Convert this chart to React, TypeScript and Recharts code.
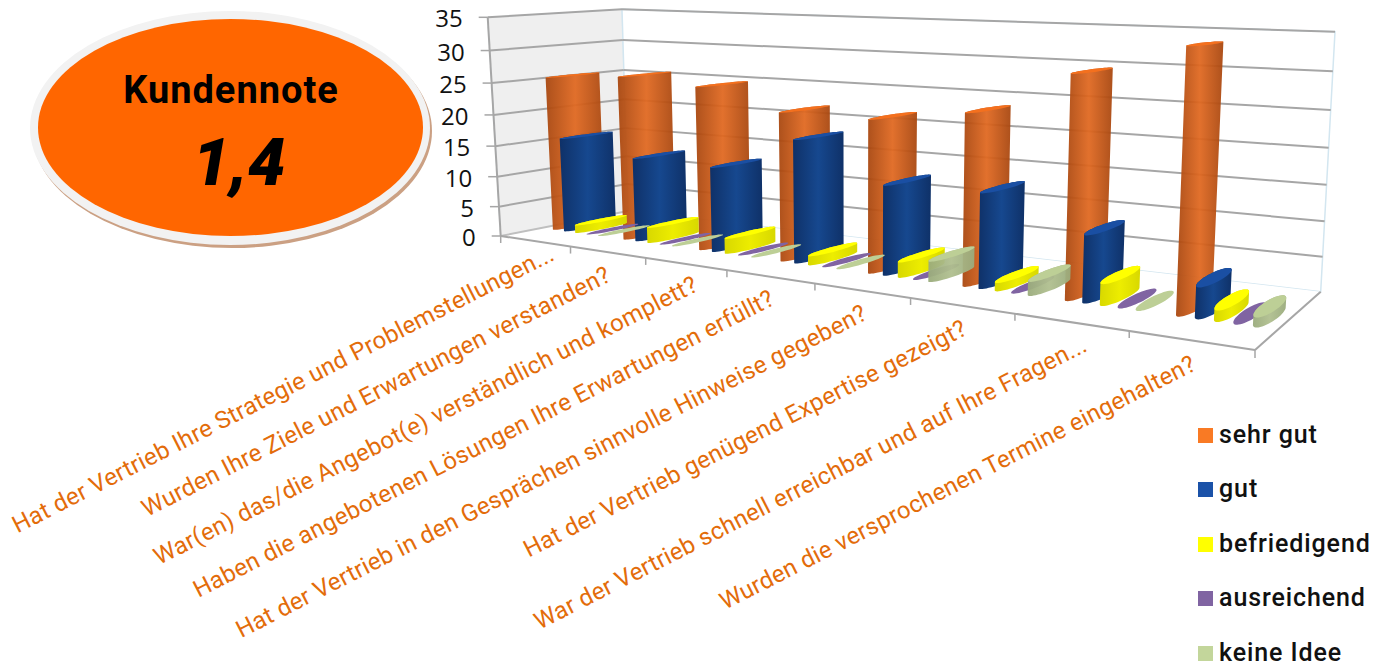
import React from 'react';
import { BarChart, Bar, XAxis, YAxis, Legend, Customized } from 'recharts';

const categories = [
  'Hat der Vertrieb Ihre Strategie und Problemstellungen...',
  'Wurden Ihre Ziele und Erwartungen verstanden?',
  'War(en) das/die Angebot(e) verständlich und komplett?',
  'Haben die angebotenen Lösungen Ihre Erwartungen erfüllt?',
  'Hat der Vertrieb in den Gesprächen sinnvolle Hinweise gegeben?',
  'Hat der Vertrieb genügend Expertise gezeigt?',
  'War der Vertrieb schnell erreichbar und auf Ihre Fragen...',
  'Wurden die versprochenen Termine eingehalten?',
];
const sehrGut = [25.3, 26.1, 25.3, 22.4, 22.3, 24.1, 29.9, 33.8];
const gut = [15.6, 13.5, 13.3, 18.6, 13.2, 13.5, 9.3, 4.2];
const befriedigend = [1.3, 2.5, 2.4, 1.4, 2.3, 1.2, 3, 1.5];
const ausreichend = [0, 0, 0, 0, 0, 0, 0, 0];
const keineIdee = [0, 0, 0, 0, 3, 2, 0, 1.3];
const yTicks = [0, 5, 10, 15, 20, 25, 30, 35];
const labelShiftX = [21, 5, 14, 6, 7, 7, 18, 7];
const labelShiftY = [18, 28, 26, 27, 28, 28, 28, 29];

const seriesMeta = [
  { key: 'sehrGut', name: 'sehr gut', legend: '#F97A24', side: 'gOrange', top: '#F4701E', opacity: 0.94, values: sehrGut },
  { key: 'gut', name: 'gut', legend: '#1B52A8', side: 'gBlue', top: '#1A4FA3', opacity: 1, values: gut },
  { key: 'befriedigend', name: 'befriedigend', legend: '#FFFF00', side: 'gYellow', top: '#FFFF00', opacity: 1, values: befriedigend },
  { key: 'ausreichend', name: 'ausreichend', legend: '#8064A2', side: 'gPurple', top: '#8064A2', opacity: 1, values: ausreichend },
  { key: 'keineIdee', name: 'keine Idee', legend: '#C3D69B', side: 'gGreen', top: '#BDCF96', opacity: 0.95, values: keineIdee },
];
const rows = categories.map((name, i) => {
  const row: Record<string, any> = { name };
  seriesMeta.forEach((s) => { row[s.key] = s.values[i]; });
  return row;
});

const W = 1388, H = 666;
const PL = 100, PT = 100, PW = 1188, PH = 466;

// perspective box: corners as [x, y, w]
const C = {
  b00: [500.7, 236, 1], b10: [1255, 350, 0.714], b01: [628, 211, 1.084], b11: [1320.7, 291.7, 0.842],
  t00: [487.7, 17.3, 0.93], t10: [1269, 43, 0.664], t01: [622, 9.3, 1.008], t11: [1335, 31.7, 0.783],
};
function project(t: number, d: number, h: number): [number, number] {
  const acc = [0, 0, 0];
  const add = (c: number[], k: number) => { acc[0] += c[0] * c[2] * k; acc[1] += c[1] * c[2] * k; acc[2] += c[2] * k; };
  add(C.b00, (1 - t) * (1 - d) * (1 - h)); add(C.b10, t * (1 - d) * (1 - h));
  add(C.b01, (1 - t) * d * (1 - h)); add(C.b11, t * d * (1 - h));
  add(C.t00, (1 - t) * (1 - d) * h); add(C.t10, t * (1 - d) * h);
  add(C.t01, (1 - t) * d * h); add(C.t11, t * d * h);
  return [acc[0] / acc[2], acc[1] / acc[2]];
}
const pathOf = (pts: [number, number][]) => 'M' + pts.map((p) => p[0].toFixed(1) + ' ' + p[1].toFixed(1)).join('L') + 'Z';
function hull(points: [number, number][]) {
  const p = [...points].sort((a, b) => a[0] - b[0] || a[1] - b[1]);
  const cross = (o: number[], a: number[], b: number[]) => (a[0] - o[0]) * (b[1] - o[1]) - (a[1] - o[1]) * (b[0] - o[0]);
  const lo: [number, number][] = [], up: [number, number][] = [];
  for (const q of p) { while (lo.length > 1 && cross(lo[lo.length - 2], lo[lo.length - 1], q) <= 0) lo.pop(); lo.push(q); }
  for (const q of p.slice().reverse()) { while (up.length > 1 && cross(up[up.length - 2], up[up.length - 1], q) <= 0) up.pop(); up.push(q); }
  return lo.slice(0, -1).concat(up.slice(0, -1));
}

const DEPTH_C = 0.5, DEPTH_R = 0.2, WIDTH_K = 0.93;
function Cylinder(props: any, meta: any) {
  const { x, y, width, height } = props;
  const tc = (x + width / 2 - PL) / PW;
  const rt = (width / 2 / PW) * WIDTH_K;
  const hTop = (PT + PH - y) / PH;
  const ring = (h: number) => {
    const out: [number, number][] = [];
    for (let a = 0; a < 48; a++) {
      const th = (a / 48) * Math.PI * 2;
      out.push(project(tc + rt * Math.cos(th), DEPTH_C + DEPTH_R * Math.sin(th), h));
    }
    return out;
  };
  const top = ring(hTop);
  const body = height > 0 ? hull([...ring(0), ...top]) : null;
  return (
    <g>
      {body && <path d={pathOf(body)} fill={`url(#${meta.side})`} fillOpacity={meta.opacity} />}
      <path d={pathOf(top)} fill={meta.top} />
    </g>
  );
}

function Walls() {
  const line = (a: [number, number], b: [number, number], k: number, stroke = '#A6A6A6', sw = 2) => (
    <line key={k} x1={a[0]} y1={a[1]} x2={b[0]} y2={b[1]} stroke={stroke} strokeWidth={sw} />
  );
  const left = [project(0, 0, 0), project(0, 1, 0), project(0, 1, 1), project(0, 0, 1)] as [number, number][];
  const back = [project(0, 1, 0), project(1, 1, 0), project(1, 1, 1), project(0, 1, 1)] as [number, number][];
  const floor = [project(0, 0, 0), project(1, 0, 0), project(1, 1, 0), project(0, 1, 0)] as [number, number][];
  let k = 0;
  return (
    <g>
      <path d={pathOf(left)} fill="#EFEFEF" stroke="#D8E8F0" strokeWidth={1} />
      <path d={pathOf(back)} fill="#FFFFFF" stroke="#D3E6F0" strokeWidth={1.5} />
      <path d={pathOf(floor)} fill="#FFFFFF" />
      {yTicks.filter((v) => v > 0).map((v) => {
        const h = v / 35;
        return (
          <g key={v}>
            {line(project(0, 0, h), project(0, 1, h), k++)}
            {line(project(0, 1, h), project(1, 1, h), k++)}
          </g>
        );
      })}
      {line(project(0, 0, 0), project(0, 1, 0), k++, '#BFBFBF')}
      {line(project(1, 0, 0), project(1, 1, 0), k++)}
      {line(project(0, 0, 0), project(1, 0, 0), k++)}
      {line(project(0, 0, 0), project(0, 0, 1), k++)}
      {categories.map((_, i) => {
        const p = project(i / 8, 0, 0);
        return line(p, [p[0], p[1] + 7], k++, '#A6A6A6', 1.5);
      })}
      {(() => { const p = project(1, 0, 0); return line(p, [p[0], p[1] + 8], k++, '#A6A6A6', 1.5); })()}
      {yTicks.map((v) => {
        const p = project(0, 0, v / 35);
        return line(p, [p[0] - 9, p[1]], k++, '#A6A6A6', 1.5);
      })}
    </g>
  );
}

function Badge() {
  return (
    <g>
      <ellipse cx={232} cy={131} rx={200} ry={117} fill="#CBA083" />
      <ellipse cx={230} cy={128} rx={200} ry={117} fill="#F2F2F2" />
      <ellipse cx={230.5} cy={127.5} rx={192.5} ry={108.5} fill="#FF6600" />
      <text x={231} y={103} textAnchor="middle" fontFamily="Roboto" fontWeight={700} fontSize={38} fill="#000" letterSpacing={1}>Kundennote</text>
      <text x={239} y={185} textAnchor="middle" fontFamily="Roboto" fontWeight={900} fontStyle="italic" fontSize={67} fill="#000">1,4</text>
    </g>
  );
}

function XTick(props: any) {
  const { x, payload, index } = props;
  const p = project((x - PL) / PW, 0, 0);
  const ex = p[0] + labelShiftX[index];
  const ey = p[1] + labelShiftY[index];
  return (
    <text x={ex} y={ey} transform={`rotate(-27 ${ex} ${ey})`} textAnchor="end" fontFamily="Roboto" fontSize={24} fill="#E36C0A" letterSpacing={0.3}>
      {payload.value}
    </text>
  );
}
function YTick(props: any) {
  const { y, payload } = props;
  const p = project(0, 0, (PT + PH - y) / PH);
  return (
    <text x={p[0] - 25} y={p[1] + 10} textAnchor="end" fontFamily="Open Sans" fontSize={24} fill="#111">
      {payload.value}
    </text>
  );
}
function LegendBox(props: any) {
  return (
    <div>
      {props.payload.map((e: any) => (
        <div key={e.value} style={{ height: 54.4, display: 'flex', alignItems: 'flex-start' }}>
          <span style={{ width: 15, height: 15, background: e.color, marginTop: 8, marginRight: 6, flex: 'none' }} />
          <span style={{ fontFamily: 'Roboto', fontWeight: 500, fontSize: 25, lineHeight: '30px', letterSpacing: 0.9, color: '#111', whiteSpace: 'nowrap' }}>{e.value}</span>
        </div>
      ))}
    </div>
  );
}
const grad = (id: string, edge: string, mid: string) => (
  <linearGradient id={id} x1="0" y1="0" x2="1" y2="0">
    <stop offset="0" stopColor={edge} />
    <stop offset="0.5" stopColor={mid} />
    <stop offset="1" stopColor={edge} />
  </linearGradient>
);

export default function App() {
  return (
    <div style={{ position: 'absolute', left: 0, top: 0, width: W, height: H }}>
      <BarChart width={W} height={H} data={rows} margin={{ left: PL - 1, top: PT, right: W - PL - PW, bottom: H - PT - PH - 1 }} barGap={0} barCategoryGap="10%">
        <defs>
          {grad('gOrange', '#A8460E', '#E06820')}
          {grad('gBlue', '#0F3168', '#16488F')}
          {grad('gYellow', '#D8D800', '#EDED00')}
          {grad('gPurple', '#8064A2', '#8064A2')}
          {grad('gGreen', '#9AAB7C', '#B0BF8F')}
        </defs>
        <Customized component={Walls} />
        <Customized component={Badge} />
        <XAxis dataKey="name" height={1} axisLine={false} tickLine={false} interval={0} tick={XTick} />
        <YAxis width={1} domain={[0, 35]} ticks={yTicks} interval={0} axisLine={false} tickLine={false} tick={YTick} />
        <Legend layout="vertical" align="center" verticalAlign="middle" itemSorter={null as any} content={LegendBox} wrapperStyle={{ left: 1198, top: 420, width: 185, height: 250 }} />
        {seriesMeta.map((s) => (
          <Bar key={s.key} dataKey={s.key} name={s.name} fill={s.legend} isAnimationActive={false} shape={(p: any) => Cylinder(p, s)} />
        ))}
      </BarChart>
    </div>
  );
}
